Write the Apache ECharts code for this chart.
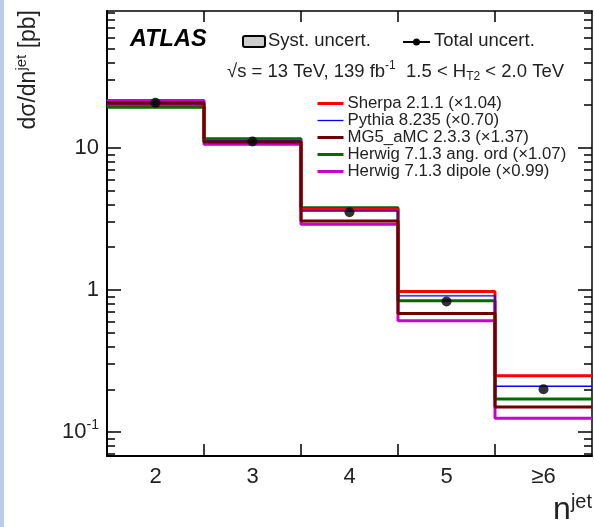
<!DOCTYPE html>
<html><head><meta charset="utf-8">
<script src="https://cdn.jsdelivr.net/npm/echarts@6/dist/echarts.min.js"></script>
<style>html,body{margin:0;padding:0;background:#fff}#c{width:594px;height:527px}</style>
</head><body><div id="c"></div>
<script>
// ---- data ----
const categories = ['2', '3', '4', '5', '≥6'];
const dataValues = [20.8, 11.1, 3.52, 0.83, 0.20];
const sherpa     = [20.1, 11.25, 3.69, 0.976, 0.249];
const pythia     = [20.4, 11.2, 3.59, 0.909, 0.210];
const mg5        = [20.8, 11.0, 3.06, 0.684, 0.150];
const herwigAng  = [19.3, 11.6, 3.79, 0.838, 0.171];
const herwigDip  = [21.6, 10.6, 2.90, 0.607, 0.125];
const modelNames = ['Sherpa 2.1.1 (×1.04)', 'Pythia 8.235 (×0.70)', 'MG5_aMC 2.3.3 (×1.37)',
                    'Herwig 7.1.3 ang. ord (×1.07)', 'Herwig 7.1.3 dipole (×0.99)'];
const yMajorTicks = [0.1, 1, 10];
const yMinorTicks = [0.07, 0.08, 0.09, 0.2, 0.3, 0.4, 0.5, 0.6, 0.7, 0.8, 0.9,
                     2, 3, 4, 5, 6, 7, 8, 9, 20, 30, 40, 50, 60, 70, 80, 90];
const yMin = 0.0678, yMax = 92;

// ---- helpers ----
const FONT = 'Liberation Sans, Arial, sans-serif';
const n = categories.length;
const xMin = 1.5, xMax = n + 1.5;
const centers = categories.map((c, i) => i + 2);
const innerEdges = categories.slice(1).map((c, i) => i + 2.5);
function stepData(vals) {
  const d = vals.map((v, i) => [i + 1.5, v]);
  d.push([n + 1.5, vals[n - 1]]);
  return d;
}
const modelStyles = [
  {vals: herwigDip, name: modelNames[4], color: '#cc00cc', w: 3},
  {vals: herwigAng, name: modelNames[3], color: '#006a00', w: 3},
  {vals: sherpa,    name: modelNames[0], color: '#ff0000', w: 3},
  {vals: pythia,    name: modelNames[1], color: '#0000ff', w: 1.3},
  {vals: mg5,       name: modelNames[2], color: '#6e0000', w: 3}
];
const series = modelStyles.map(m => ({
  type: 'line', name: m.name, step: 'end', symbol: 'none', silent: true,
  xAxisIndex: 0, yAxisIndex: 0,
  lineStyle: {color: m.color, width: m.w}, itemStyle: {color: m.color},
  data: stepData(m.vals), z: 3
}));
series.push({
  type: 'scatter', name: 'Data', symbol: 'circle', symbolSize: 10,
  itemStyle: {color: '#000'}, xAxisIndex: 0, yAxisIndex: 0, z: 5,
  data: dataValues.map((v, i) => [centers[i], v])
});
const legendData = modelNames.map(name => {
  const m = modelStyles.find(s => s.name === name);
  return {name: name, lineStyle: {width: m.w, color: m.color}};
});

const supRich = {
  b: {fontSize: 22, fontFamily: FONT, color: '#222', lineHeight: 28},
  s: {fontSize: 14, fontFamily: FONT, color: '#222', verticalAlign: 'top', lineHeight: 14}
};
function yAx(pos, major, label) {
  return {
    type: 'log', logBase: 10, min: yMin, max: yMax, position: pos,
    axisLine: {show: major, lineStyle: {color: '#000', width: pos === 'left' ? 2 : 1.5}},
    axisTick: {show: true, inside: true, length: major ? 14 : 8,
               customValues: major ? yMajorTicks : yMinorTicks,
               lineStyle: {color: '#000', width: 1.5}},
    axisLabel: label ? {
      show: true, customValues: yMajorTicks, margin: 8, color: '#222',
      fontFamily: FONT, fontSize: 22,
      formatter: v => v < 0.5 ? '{b|10}{s|-1}' : (v < 5 ? '{b|1}' : '{b|10}'),
      rich: supRich
    } : {show: false},
    splitLine: {show: false}
  };
}
function xAx(pos, label) {
  return {
    type: 'value', min: xMin, max: xMax, position: pos,
    axisLine: {show: true, onZero: false, lineStyle: {color: '#000', width: pos === 'bottom' ? 2 : 1.5}},
    axisTick: {show: true, inside: true, length: pos === 'bottom' ? 12 : 11,
               customValues: innerEdges, lineStyle: {color: '#000', width: 1.5}},
    axisLabel: label ? {
      show: true, customValues: centers, margin: 10, color: '#222',
      fontFamily: FONT, fontSize: 22,
      formatter: v => categories[Math.round(v - 2)]
    } : {show: false},
    splitLine: {show: false}
  };
}

const chart = echarts.init(document.getElementById('c'), null, {renderer: 'canvas'});
chart.setOption({
  animation: false,
  backgroundColor: '#fff',
  grid: {left: 107, top: 11, right: 2, bottom: 71, containLabel: false},
  xAxis: [xAx('bottom', true), xAx('top', false)],
  yAxis: [yAx('left', true, true), yAx('left', false, false), yAx('right', true, false), yAx('right', false, false)],
  legend: {
    data: legendData, orient: 'vertical', left: 316, top: 95, padding: 0,
    itemWidth: 26, itemHeight: 14, itemGap: 0, selectedMode: false,
    itemStyle: {opacity: 0},
    textStyle: {fontFamily: FONT, fontSize: 16.8, color: '#222', lineHeight: 14, padding: [0, 0, 0, -1]}
  },
  graphic: [
    {type: 'rect', left: 0, top: 0, shape: {width: 4, height: 527}, style: {fill: '#b9cde5'}, silent: true},
    {type: 'text', left: 130, top: 28, style: {text: 'ATLAS', font: 'italic bold 23.5px ' + FONT, fill: '#000'}},
    {type: 'rect', shape: {x: 243, y: 36, width: 22, height: 11, r: 2},
     style: {fill: '#cccccc', stroke: '#000', lineWidth: 2}},
    {type: 'text', left: 268, top: 31, style: {text: 'Syst. uncert.', font: '18.5px ' + FONT, fill: '#222'}},
    {type: 'line', shape: {x1: 403, y1: 42, x2: 430, y2: 42}, style: {stroke: '#000', lineWidth: 2}},
    {type: 'circle', shape: {cx: 416.5, cy: 42, r: 3.5}, style: {fill: '#000'}},
    {type: 'text', left: 434, top: 31, style: {text: 'Total uncert.', font: '18.5px ' + FONT, fill: '#222'}},
    {type: 'text', left: 227, top: 60, style: {
      text: '{r|√}{b|s = 13 TeV, 139 fb}{p|-1}{b|  1.5 < H}{u|T2}{b| < 2.0 TeV}',
      rich: {
        r: {fontSize: 18.5, fontFamily: FONT, fill: '#222', lineHeight: 23},
        b: {fontSize: 18.5, fontFamily: FONT, fill: '#222', lineHeight: 23},
        p: {fontSize: 12, fontFamily: FONT, fill: '#222', verticalAlign: 'top', lineHeight: 12},
        u: {fontSize: 12, fontFamily: FONT, fill: '#222', verticalAlign: 'bottom', lineHeight: 12}
      }}},
    {type: 'text', x: 29, y: 10, rotation: Math.PI / 2, style: {
      text: '{b|dσ/dn}{s|jet}{b| [pb]}', align: 'right', verticalAlign: 'middle',
      rich: {
        b: {fontSize: 23, fontFamily: FONT, fill: '#222', lineHeight: 29},
        s: {fontSize: 15, fontFamily: FONT, fill: '#222', verticalAlign: 'top', lineHeight: 15}
      }}},
    {type: 'text', right: 2, top: 492, style: {
      text: '{b|n}{s|jet}',
      rich: {
        b: {fontSize: 32, fontFamily: FONT, fill: '#222', lineHeight: 36},
        s: {fontSize: 20, fontFamily: FONT, fill: '#222', verticalAlign: 'top', lineHeight: 20}
      }}}
  ],
  series: series
});
</script></body></html>
